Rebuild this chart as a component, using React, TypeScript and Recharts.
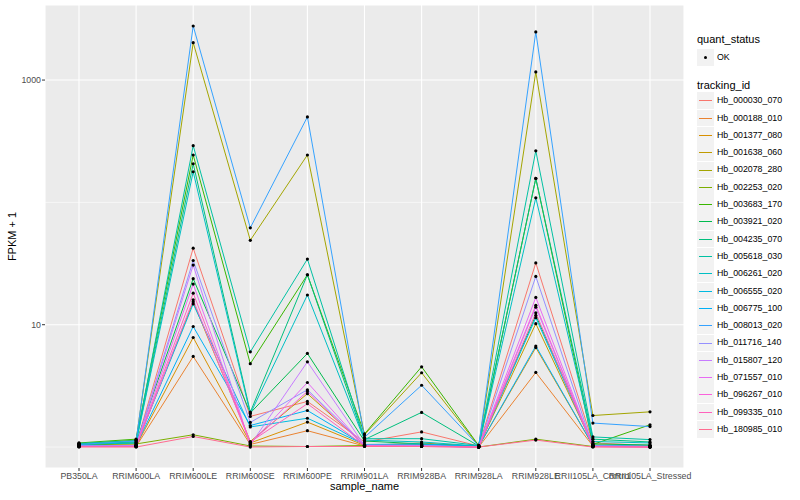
import React from "react";
import {
  CartesianGrid,
  Label,
  Line,
  LineChart,
  ReferenceLine,
  XAxis,
  YAxis,
} from "recharts";

const FONT = '"Liberation Sans", Arial, Helvetica, sans-serif';

const categories = [
  "PB350LA",
  "RRIM600LA",
  "RRIM600LE",
  "RRIM600SE",
  "RRIM600PE",
  "RRIM901LA",
  "RRIM928BA",
  "RRIM928LA",
  "RRIM928LE",
  "RRII105LA_Control",
  "RRII105LA_Stressed",
];

const trackingIds = [
  "Hb_000030_070",
  "Hb_000188_010",
  "Hb_001377_080",
  "Hb_001638_060",
  "Hb_002078_280",
  "Hb_002253_020",
  "Hb_003683_170",
  "Hb_003921_020",
  "Hb_004235_070",
  "Hb_005618_030",
  "Hb_006261_020",
  "Hb_006555_020",
  "Hb_006775_100",
  "Hb_008013_020",
  "Hb_011716_140",
  "Hb_015807_120",
  "Hb_071557_010",
  "Hb_096267_010",
  "Hb_099335_010",
  "Hb_180985_010",
];

const hueColors = [
  "#F8766D", "#EA8331", "#D89000", "#C09B00", "#A3A500",
  "#7CAE00", "#39B600", "#00BB4E", "#00BF7D", "#00C1A3",
  "#00BFC4", "#00BAE0", "#00B0F6", "#35A2FF", "#9590FF",
  "#C77CFF", "#E76BF3", "#FA62DB", "#FF62BC", "#FF6C91",
];

// FPKM + 1, one value per sample, in category order
const hb000030_070 = [1.03, 1.04, 42.2, 1.78, 2.36, 1.1, 1.33, 1.02, 32, 1.08, 1.03];
const hb000188_010 = [1.02, 1.01, 5.5, 1.05, 1.36, 1.02, 1.03, 1.0, 4.07, 1.02, 1.01];
const hb001377_080 = [1.02, 1.02, 7.86, 1.08, 1.6, 1.03, 1.08, 1.01, 6.5, 1.03, 1.02];
const hb001638_060 = [1.03, 1.03, 15.4, 1.11, 2.73, 1.04, 1.05, 1.01, 10.2, 1.04, 1.02];
const hb002078_280 = [1.06, 1.14, 2022, 49, 244, 1.26, 4.05, 1.02, 1165, 1.81, 1.94];
const hb002253_020 = [1.04, 1.06, 1.26, 1.02, 1.01, 1.03, 1.02, 1.0, 1.16, 1.01, 1.01];
const hb003683_170 = [1.08, 1.16, 244, 4.8, 25.6, 1.28, 4.53, 1.03, 157, 1.05, 1.52];
const hb003921_020 = [1.05, 1.08, 23.8, 1.9, 5.82, 1.12, 1.06, 1.02, 11.9, 1.06, 1.04];
const hb004235_070 = [1.06, 1.1, 207, 1.93, 25.6, 1.15, 1.92, 1.02, 157, 1.16, 1.1];
const hb005618_030 = [1.07, 1.13, 291, 6.0, 34.4, 1.17, 1.17, 1.03, 264, 1.21, 1.15];
const hb006261_020 = [1.05, 1.08, 178, 1.87, 17.5, 1.14, 1.1, 1.02, 109, 1.11, 1.08];
const hb006555_020 = [1.02, 1.03, 14.8, 1.46, 1.72, 1.05, 1.06, 1.01, 11.4, 1.03, 1.02];
const hb006775_100 = [1.02, 1.03, 9.67, 1.5, 1.99, 1.04, 1.04, 1.01, 6.7, 1.03, 1.01];
const hb008013_020 = [1.05, 1.12, 2767, 62, 500, 1.2, 3.2, 1.02, 2473, 1.57, 1.47];
const hb011716_140 = [1.02, 1.03, 33.5, 1.59, 2.94, 1.04, 1.03, 1.0, 24.8, 1.02, 1.01];
const hb015807_120 = [1.02, 1.02, 30.7, 1.04, 4.97, 1.03, 1.02, 1.0, 13.9, 1.02, 1.01];
const hb071557_010 = [1.01, 1.02, 21.5, 1.06, 3.37, 1.02, 1.02, 1.0, 16.7, 1.01, 1.0];
const hb096267_010 = [1.01, 1.01, 16, 1.08, 2.85, 1.02, 1.01, 1.0, 14.4, 1.01, 1.0];
const hb099335_010 = [1.01, 1.01, 18.1, 1.1, 2.26, 1.02, 1.01, 1.0, 12.5, 1.01, 1.0];
const hb180985_010 = [1.0, 1.0, 1.22, 1.0, 1.01, 1.01, 1.01, 1.0, 1.14, 1.0, 1.0];

const seriesValues = [
  hb000030_070, hb000188_010, hb001377_080, hb001638_060, hb002078_280,
  hb002253_020, hb003683_170, hb003921_020, hb004235_070, hb005618_030,
  hb006261_020, hb006555_020, hb006775_100, hb008013_020, hb011716_140,
  hb015807_120, hb071557_010, hb096267_010, hb099335_010, hb180985_010,
];

const yTicks = [10, 1000];
const yMinorGrid = [1, 100];

const series = trackingIds.map((id, i) => ({
  id,
  color: hueColors[i],
  values: seriesValues[i],
}));

const rows = categories.map((name, i) => {
  const row: Record<string, string | number> = { sample_name: name };
  series.forEach((s) => {
    row[s.id] = s.values[i];
  });
  return row;
});

function LegendPanel() {
  const itemTop = 100.7;
  const step = 17.3;
  return (
    <div style={{ position: "absolute", left: 0, top: 0, fontFamily: FONT }}>
      <div style={{ position: "absolute", left: 697, top: 33, fontSize: 11, lineHeight: "13px", color: "#000", whiteSpace: "nowrap" }}>
        quant_status
      </div>
      <div style={{ position: "absolute", left: 697, top: 48.5, width: 17, height: 17, background: "#F2F2F2" }}>
        <div style={{ position: "absolute", left: 7, top: 7, width: 3, height: 3, borderRadius: 2, background: "#000" }} />
      </div>
      <div style={{ position: "absolute", left: 717, top: 51.5, fontSize: 8.8, lineHeight: "11px", color: "#000" }}>OK</div>
      <div style={{ position: "absolute", left: 697, top: 78.5, fontSize: 11, lineHeight: "13px", color: "#000", whiteSpace: "nowrap" }}>
        tracking_id
      </div>
      {series.map((s, i) => {
        const cy = itemTop + step * i;
        return (
          <React.Fragment key={s.id}>
            <div style={{ position: "absolute", left: 697, top: cy - 8.4, width: 17, height: 16.8, background: "#F2F2F2" }}>
              <div style={{ position: "absolute", left: 2, top: 8, width: 13, height: 1, background: s.color }} />
            </div>
            <div style={{ position: "absolute", left: 717, top: cy - 5.5, fontSize: 8.8, lineHeight: "11px", color: "#000", whiteSpace: "nowrap" }}>
              {s.id}
            </div>
          </React.Fragment>
        );
      })}
    </div>
  );
}

export default function App() {
  return (
    <div style={{ position: "absolute", left: 0, top: 0, width: 800, height: 500, background: "#fff", fontFamily: FONT }}>
      <LineChart width={800} height={500} data={rows} margin={{ top: 5, right: 116, bottom: 0, left: 0 }}>
        <CartesianGrid fill="#EBEBEB" stroke="#FFFFFF" strokeWidth={1.1} />
        {yMinorGrid.map((v) => (
          <ReferenceLine key={v} y={v} stroke="#FFFFFF" strokeWidth={0.55} />
        ))}
        <XAxis
          dataKey="sample_name"
          interval={0}
          padding={{ left: 34, right: 34 }}
          axisLine={false}
          tickLine={{ stroke: "#333333" }}
          tickSize={3}
          tickMargin={2}
          height={32}
          tick={{ fontSize: 8.8, fill: "#4D4D4D", fontFamily: FONT }}
        >
          <Label
            content={() => (
              <text x={364.5} y={490} textAnchor="middle" fontSize={11} fill="#000" fontFamily={FONT}>
                sample_name
              </text>
            )}
          />
        </XAxis>
        <YAxis
          scale="log"
          domain={[0.674, 4107]}
          allowDataOverflow
          ticks={yTicks}
          width={45}
          axisLine={false}
          tickLine={{ stroke: "#333333" }}
          tickSize={3}
          tickMargin={1}
          tick={{ fontSize: 8.8, fill: "#4D4D4D", fontFamily: FONT }}
        >
          <Label
            content={() => (
              <text
                x={12}
                y={236.5}
                transform="rotate(-90 12 236.5)"
                textAnchor="middle"
                dominantBaseline="central"
                fontSize={11}
                fill="#000"
                fontFamily={FONT}
              >
                FPKM + 1
              </text>
            )}
          />
        </YAxis>
        {series.map((s) => (
          <Line
            key={s.id}
            type="linear"
            dataKey={s.id}
            stroke={s.color}
            strokeWidth={1}
            dot={false}
            activeDot={false}
            isAnimationActive={false}
          />
        ))}
        {series.map((s) => (
          <Line
            key={s.id + "-pt"}
            type="linear"
            dataKey={s.id}
            stroke="none"
            dot={{ r: 1.6, fill: "#000", stroke: "none" }}
            activeDot={false}
            legendType="none"
            isAnimationActive={false}
          />
        ))}
      </LineChart>
      <LegendPanel />
    </div>
  );
}
